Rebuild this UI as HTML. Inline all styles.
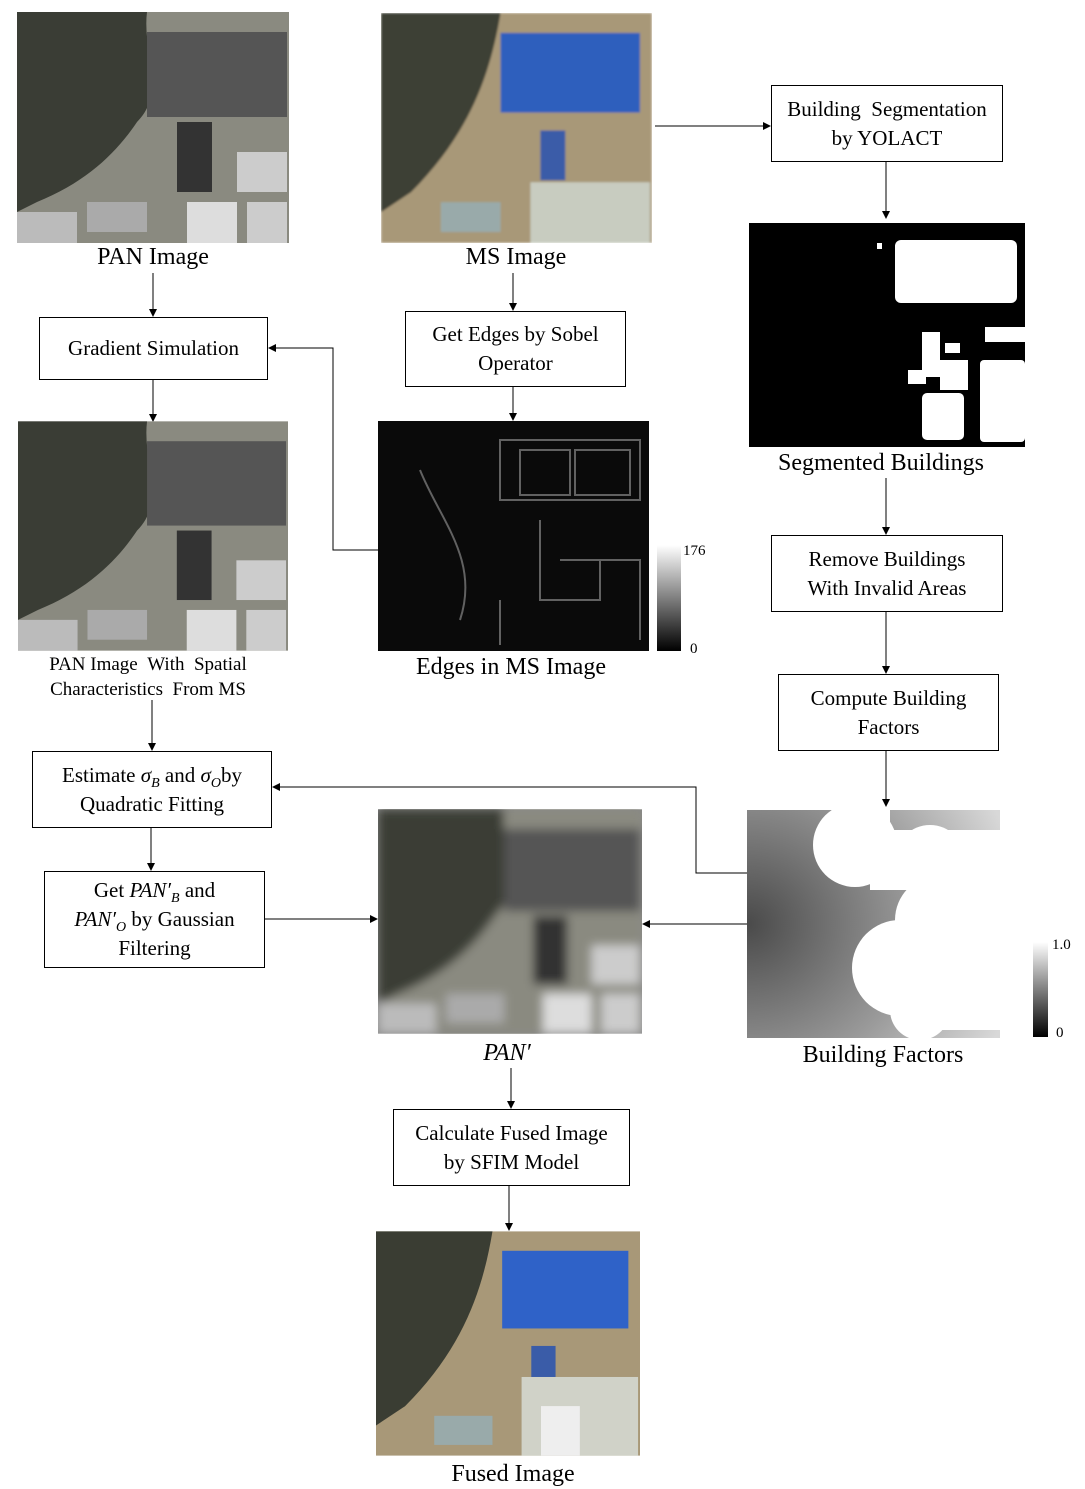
<!DOCTYPE html>
<html><head><meta charset="utf-8"><style>
body{margin:0;width:1085px;height:1489px;background:#fff;position:relative;font-family:"Liberation Serif",serif;overflow:hidden}
.b{position:absolute;border:1px solid #000;box-sizing:border-box;display:flex;align-items:center;justify-content:center;text-align:center;font-size:21px;line-height:29px;background:#fff}
.l{position:absolute;font-size:24px;text-align:center;white-space:nowrap;transform:translateX(-50%)}
.s{position:absolute;font-size:15px}
svg{position:absolute;left:0;top:0}
i{font-style:italic}
sub{font-size:14px;line-height:0}
</style></head><body>
<svg width="1085" height="1489">
<defs>
<marker id="a" markerWidth="8" markerHeight="8" refX="7" refY="4" orient="auto" markerUnits="userSpaceOnUse"><path d="M0,0L8,4L0,8z"/></marker>
<radialGradient id="bf" cx="0" cy="0.5" r="1.1"><stop offset="0" stop-color="#4a4a4a"/><stop offset="0.6" stop-color="#9a9a9a"/><stop offset="1" stop-color="#d8d8d8"/></radialGradient>
<linearGradient id="cb" x1="0" y1="0" x2="0" y2="1"><stop offset="0" stop-color="#fff"/><stop offset="1" stop-color="#000"/></linearGradient>
<filter id="bl"><feGaussianBlur stdDeviation="5"/></filter>
<filter id="bl2"><feGaussianBlur stdDeviation="1.2"/></filter>
<g id="sat">
<rect width="272" height="231" fill="#8a8a80"/>
<path d="M0,0H130C125,40,150,80,120,110C100,140,70,170,20,190L0,200Z" fill="#3a3d35"/>
<rect x="130" y="20" width="140" height="85" fill="#555"/>
<rect x="160" y="110" width="35" height="70" fill="#333"/>
<rect x="220" y="140" width="50" height="40" fill="#ccc"/>
<rect x="170" y="190" width="50" height="41" fill="#ddd"/>
<rect x="230" y="190" width="40" height="41" fill="#ccc"/>
<rect x="70" y="190" width="60" height="30" fill="#aaa"/>
<rect x="0" y="200" width="60" height="31" fill="#bbb"/>
</g>
</defs>
<g stroke="#000" stroke-width="1" fill="none">
<line x1="655" y1="126" x2="770" y2="126" marker-end="url(#a)"/>
<line x1="886" y1="162" x2="886" y2="218" marker-end="url(#a)"/>
<line x1="886" y1="478" x2="886" y2="534" marker-end="url(#a)"/>
<line x1="886" y1="612" x2="886" y2="673" marker-end="url(#a)"/>
<line x1="886" y1="751" x2="886" y2="806" marker-end="url(#a)"/>
<line x1="153" y1="273" x2="153" y2="316" marker-end="url(#a)"/>
<line x1="153" y1="380" x2="153" y2="421" marker-end="url(#a)"/>
<line x1="152" y1="700" x2="152" y2="750" marker-end="url(#a)"/>
<line x1="151" y1="828" x2="151" y2="870" marker-end="url(#a)"/>
<line x1="265" y1="919" x2="377" y2="919" marker-end="url(#a)"/>
<line x1="513" y1="273" x2="513" y2="310" marker-end="url(#a)"/>
<line x1="513" y1="387" x2="513" y2="420" marker-end="url(#a)"/>
<polyline points="378,550 333,550 333,348 269,348" marker-end="url(#a)"/>
<line x1="747" y1="924" x2="643" y2="924" marker-end="url(#a)"/>
<polyline points="747,873 696,873 696,787 273,787" marker-end="url(#a)"/>
<line x1="511" y1="1068" x2="511" y2="1108" marker-end="url(#a)"/>
<line x1="509" y1="1186" x2="509" y2="1230" marker-end="url(#a)"/>
</g>
<svg x="17" y="12" width="272" height="231" viewBox="0 0 272 231"><use href="#sat"/></svg>
<svg x="381" y="13" width="271" height="230" viewBox="0 0 272 231"><g filter="url(#bl2)"><rect width="272" height="231" fill="#a89878"/><path d="M0,0H120C110,60,90,120,30,180L0,200Z" fill="#3e4034"/><rect x="120" y="20" width="140" height="80" fill="#2f5fbd"/><rect x="160" y="118" width="25" height="50" fill="#3a5ca8"/><rect x="150" y="170" width="120" height="61" fill="#c8ccc0"/><rect x="60" y="190" width="60" height="30" fill="#9aa"/></g></svg>
<svg x="18" y="421" width="270" height="230" viewBox="0 0 272 231"><use href="#sat"/></svg>
<rect x="378" y="421" width="271" height="230" fill="#0a0a0a"/>
<g stroke="#777" stroke-width="2" fill="none" opacity="0.8">
<rect x="500" y="440" width="140" height="60"/><rect x="520" y="450" width="50" height="45"/><rect x="575" y="450" width="55" height="45"/>
<path d="M540,520V600H600V560M560,560H640V640M420,470C440,520,480,560,460,620M500,600V645"/>
</g>
<rect x="657" y="545" width="24" height="106" fill="url(#cb)"/>
<rect x="749" y="223" width="276" height="224" fill="#000"/>
<g fill="#fff"><rect x="895" y="240" width="122" height="63" rx="6"/><rect x="877" y="243" width="5" height="6"/><rect x="922" y="332" width="18" height="45"/><rect x="940" y="360" width="28" height="30"/><rect x="908" y="370" width="18" height="14"/><rect x="922" y="393" width="42" height="47" rx="5"/><rect x="980" y="360" width="45" height="82" rx="4"/><rect x="985" y="327" width="40" height="15"/><rect x="945" y="343" width="15" height="10"/></g>
<rect x="747" y="810" width="253" height="228" fill="url(#bf)"/>
<g fill="#fff"><circle cx="855" cy="845" r="42"/><rect x="868" y="810" width="22" height="60"/><rect x="870" y="830" width="130" height="60"/><circle cx="930" cy="860" r="35"/><circle cx="900" cy="968" r="48"/><circle cx="940" cy="920" r="45"/><circle cx="920" cy="1010" r="30"/><rect x="930" y="880" width="70" height="150"/></g>
<rect x="1033" y="942" width="15" height="95" fill="url(#cb)"/>
<svg x="378" y="809" width="264" height="225" viewBox="0 0 272 231"><rect width="272" height="231" fill="#888"/><g filter="url(#bl)"><use href="#sat"/></g></svg>
<svg x="376" y="1231" width="264" height="225" viewBox="0 0 272 231"><rect width="272" height="231" fill="#a89878"/><path d="M0,0H120C110,60,90,120,30,180L0,200Z" fill="#3a3d33"/><rect x="130" y="20" width="130" height="80" fill="#2f62c8"/><rect x="160" y="118" width="25" height="50" fill="#3a5ca8"/><rect x="150" y="150" width="120" height="81" fill="#d0d2c8"/><rect x="170" y="180" width="40" height="51" fill="#eee"/><rect x="60" y="190" width="60" height="30" fill="#9aa"/></svg>
</svg>
<div class="l" style="left:153px;top:244px">PAN Image</div>
<div class="l" style="left:516px;top:244px">MS Image</div>
<div class="l" style="left:881px;top:450px">Segmented Buildings</div>
<div class="l" style="left:511px;top:654px">Edges in MS Image</div>
<div class="l" style="left:883px;top:1042px">Building Factors</div>
<div class="l" style="left:507px;top:1040px"><i>PAN′</i></div>
<div class="l" style="left:513px;top:1461px">Fused Image</div>
<div class="l" style="left:148px;top:652px;font-size:19px;line-height:25px">PAN Image &nbsp;With &nbsp;Spatial<br>Characteristics &nbsp;From MS</div>
<div class="s" style="left:683px;top:543px">176</div>
<div class="s" style="left:690px;top:641px">0</div>
<div class="s" style="left:1052px;top:937px">1.0</div>
<div class="s" style="left:1056px;top:1025px">0</div>
<div class="b" style="left:771px;top:85px;width:232px;height:77px"><div>Building &nbsp;Segmentation<br>by YOLACT</div></div>
<div class="b" style="left:771px;top:535px;width:232px;height:77px"><div>Remove Buildings<br>With Invalid Areas</div></div>
<div class="b" style="left:778px;top:674px;width:221px;height:77px"><div>Compute Building<br>Factors</div></div>
<div class="b" style="left:39px;top:317px;width:229px;height:63px"><div>Gradient Simulation</div></div>
<div class="b" style="left:405px;top:311px;width:221px;height:76px"><div>Get Edges by Sobel<br>Operator</div></div>
<div class="b" style="left:32px;top:751px;width:240px;height:77px"><div>Estimate <i>σ<sub>B</sub></i> and <i>σ<sub>O</sub></i>by<br>Quadratic Fitting</div></div>
<div class="b" style="left:44px;top:871px;width:221px;height:97px"><div>Get <i>PAN′<sub>B</sub></i> and<br><i>PAN′<sub>O</sub></i> by Gaussian<br>Filtering</div></div>
<div class="b" style="left:393px;top:1109px;width:237px;height:77px"><div>Calculate Fused Image<br>by SFIM Model</div></div>
</body></html>
